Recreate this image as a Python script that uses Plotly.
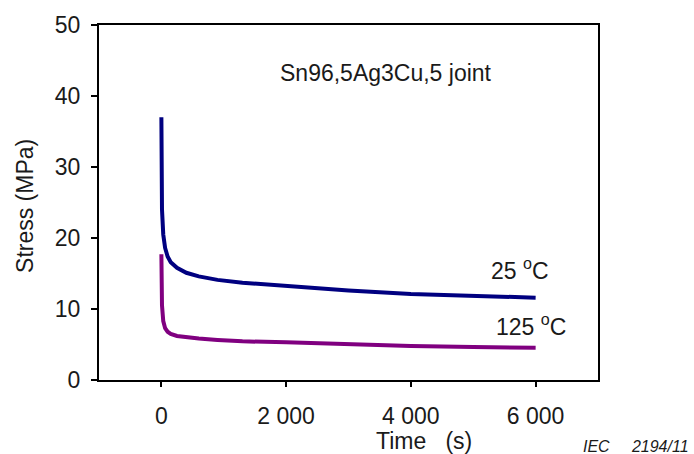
import plotly.graph_objects as go

# Data
time_s = [0, 10, 30, 60, 100, 150, 250, 400, 600, 900, 1300, 2000, 3000, 4000, 5000, 6000]
stress_25C = [37.0, 24.0, 20.5, 18.6, 17.4, 16.6, 15.8, 15.1, 14.6, 14.1, 13.7, 13.2, 12.6, 12.1, 11.8, 11.6]
stress_125C = [17.7, 10.5, 8.3, 7.3, 6.8, 6.5, 6.2, 6.0, 5.85, 5.65, 5.45, 5.3, 5.0, 4.8, 4.65, 4.55]

x_tickvals = [0, 2000, 4000, 6000]
x_ticktext = ["0", "2\u00a0000", "4\u00a0000", "6\u00a0000"]
y_tickvals = [0, 10, 20, 30, 40, 50]

FONT = "Liberation Sans, Arial, sans-serif"
TXT = "#1a1a1a"
FS = 23

fig = go.Figure()
fig.add_trace(go.Scatter(x=time_s, y=stress_25C, mode="lines",
                         line=dict(color="#000080", width=4), name="25 °C"))
fig.add_trace(go.Scatter(x=time_s, y=stress_125C, mode="lines",
                         line=dict(color="#800080", width=4), name="125 °C"))

fig.update_layout(
    width=694, height=454,
    margin=dict(l=99, r=96, t=21, b=74),
    paper_bgcolor="white", plot_bgcolor="white",
    showlegend=False,
    font=dict(family=FONT, size=FS, color=TXT),
    xaxis=dict(range=[-1000, 7000], tickvals=x_tickvals, ticktext=x_ticktext,
               showgrid=False, zeroline=False, showline=True, linecolor="black",
               linewidth=2, mirror=True, ticks="outside", ticklen=5, tickwidth=2,
               tickcolor="black", ticklabelstandoff=9,
               tickfont=dict(size=FS, color=TXT, family=FONT)),
    yaxis=dict(range=[0, 50], tickvals=y_tickvals,
               showgrid=False, zeroline=False, showline=True, linecolor="black",
               linewidth=2, mirror=True, ticks="outside", ticklen=6, tickwidth=2,
               tickcolor="black", ticklabelstandoff=6,
               tickfont=dict(size=FS, color=TXT, family=FONT)),
    annotations=[
        dict(text="Sn96,5Ag3Cu,5 joint", xref="paper", yref="paper",
             x=0.359, y=0.8635, xanchor="left", yanchor="middle", showarrow=False,
             font=dict(size=FS, color=TXT, family=FONT)),
        dict(text="25\u00a0<sup>o</sup>C", xref="paper", yref="paper",
             x=0.782, y=0.312, xanchor="left", yanchor="middle", showarrow=False,
             font=dict(size=FS, color=TXT, family=FONT)),
        dict(text="125\u00a0<sup>o</sup>C", xref="paper", yref="paper",
             x=0.792, y=0.156, xanchor="left", yanchor="middle", showarrow=False,
             font=dict(size=FS, color=TXT, family=FONT)),
        dict(text="Time\u00a0\u00a0\u00a0(s)", xref="paper", yref="paper",
             x=(424 - 99) / 499, y=-(442 - 380) / 359, xanchor="center", yanchor="middle",
             showarrow=False, font=dict(size=FS, color=TXT, family=FONT)),
        dict(text="Stress (MPa)", xref="paper", yref="paper", textangle=-90,
             x=(25 - 99) / 499, y=(380 - 204) / 359, xanchor="center", yanchor="middle",
             showarrow=False, font=dict(size=FS, color=TXT, family=FONT)),
        dict(text="<i>IEC\u00a0\u00a0\u00a0\u00a0\u00a02194/11</i>", xref="paper", yref="paper",
             x=(691 - 99) / 499, y=-(447 - 380) / 359, xanchor="right", yanchor="middle",
             showarrow=False, font=dict(size=16, color=TXT, family=FONT)),
    ],
)

fig.write_html("out.html")
